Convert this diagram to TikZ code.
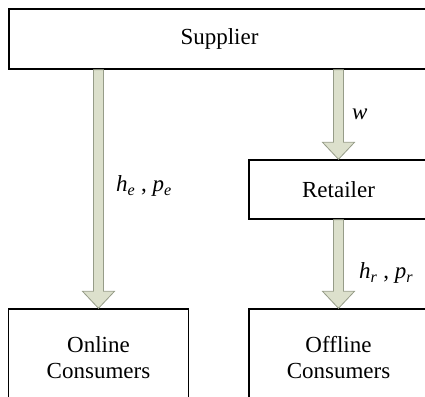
\documentclass[tikz,border=0pt]{standalone}
\usepackage{fontspec}
\setmainfont{Liberation Serif}
\usetikzlibrary{calc}

\definecolor{sage}{RGB}{220,224,204}
\definecolor{sageline}{RGB}{150,156,136}

\tikzset{
  box/.style={draw, line width=1.4bp, rectangle, font=\fontsize{23bp}{26bp}\selectfont, align=center},
  lbl/.style={font=\fontsize{23bp}{26bp}\selectfont, inner sep=0pt},
  fat/.style={fill=sage, draw=sageline, line width=0.8bp}
}
\newcommand{\fatarrow}[2]{%
  \draw[fat] let \p1=(#1), \p2=(#2) in
    (\x1-5bp,\y1) -- (\x1+5bp,\y1) -- (\x1+5bp,\y2+17bp) -- (\x1+16bp,\y2+17bp)
    -- (\x1,\y2) -- (\x1-16bp,\y2+17bp) -- (\x1-5bp,\y2+17bp) -- cycle;}
\newcommand{\vsub}[2]{\textit{#1}\textsubscript{\textit{#2}}}

\begin{document}
\begin{tikzpicture}[x=1bp, y=1bp]
  \clip (0,0) rectangle (425,397);

  \node[box, minimum width=421bp, minimum height=60bp] (sup) at (219.5, 358) {Supplier};
  \node[box, minimum width=179bp, minimum height=59bp] (ret) at (338.5, 207.5) {Retailer};
  \node[box, minimum width=180bp, minimum height=98bp] (onl) at (98.5, 39) {Online\\Consumers};
  \node[box, minimum width=179bp, minimum height=98bp] (off) at (338.5, 39) {Offline\\Consumers};

  \coordinate (s1) at (sup.south -| onl.north);
  \coordinate (s2) at (sup.south -| ret.north);
  \fatarrow{s1}{onl.north}
  \fatarrow{s2}{ret.north}
  \fatarrow{ret.south}{off.north}

  \node[lbl, anchor=west] (lw) at (352, 283) {\textit{w}};
  \node[lbl, anchor=west] (lhe) at (116, 211) {\vsub{h}{e} , \vsub{p}{e}};
  \node[lbl, anchor=west] (lhr) at (359, 124) {\vsub{h}{r} , \vsub{p}{r}};
\end{tikzpicture}
\end{document}
